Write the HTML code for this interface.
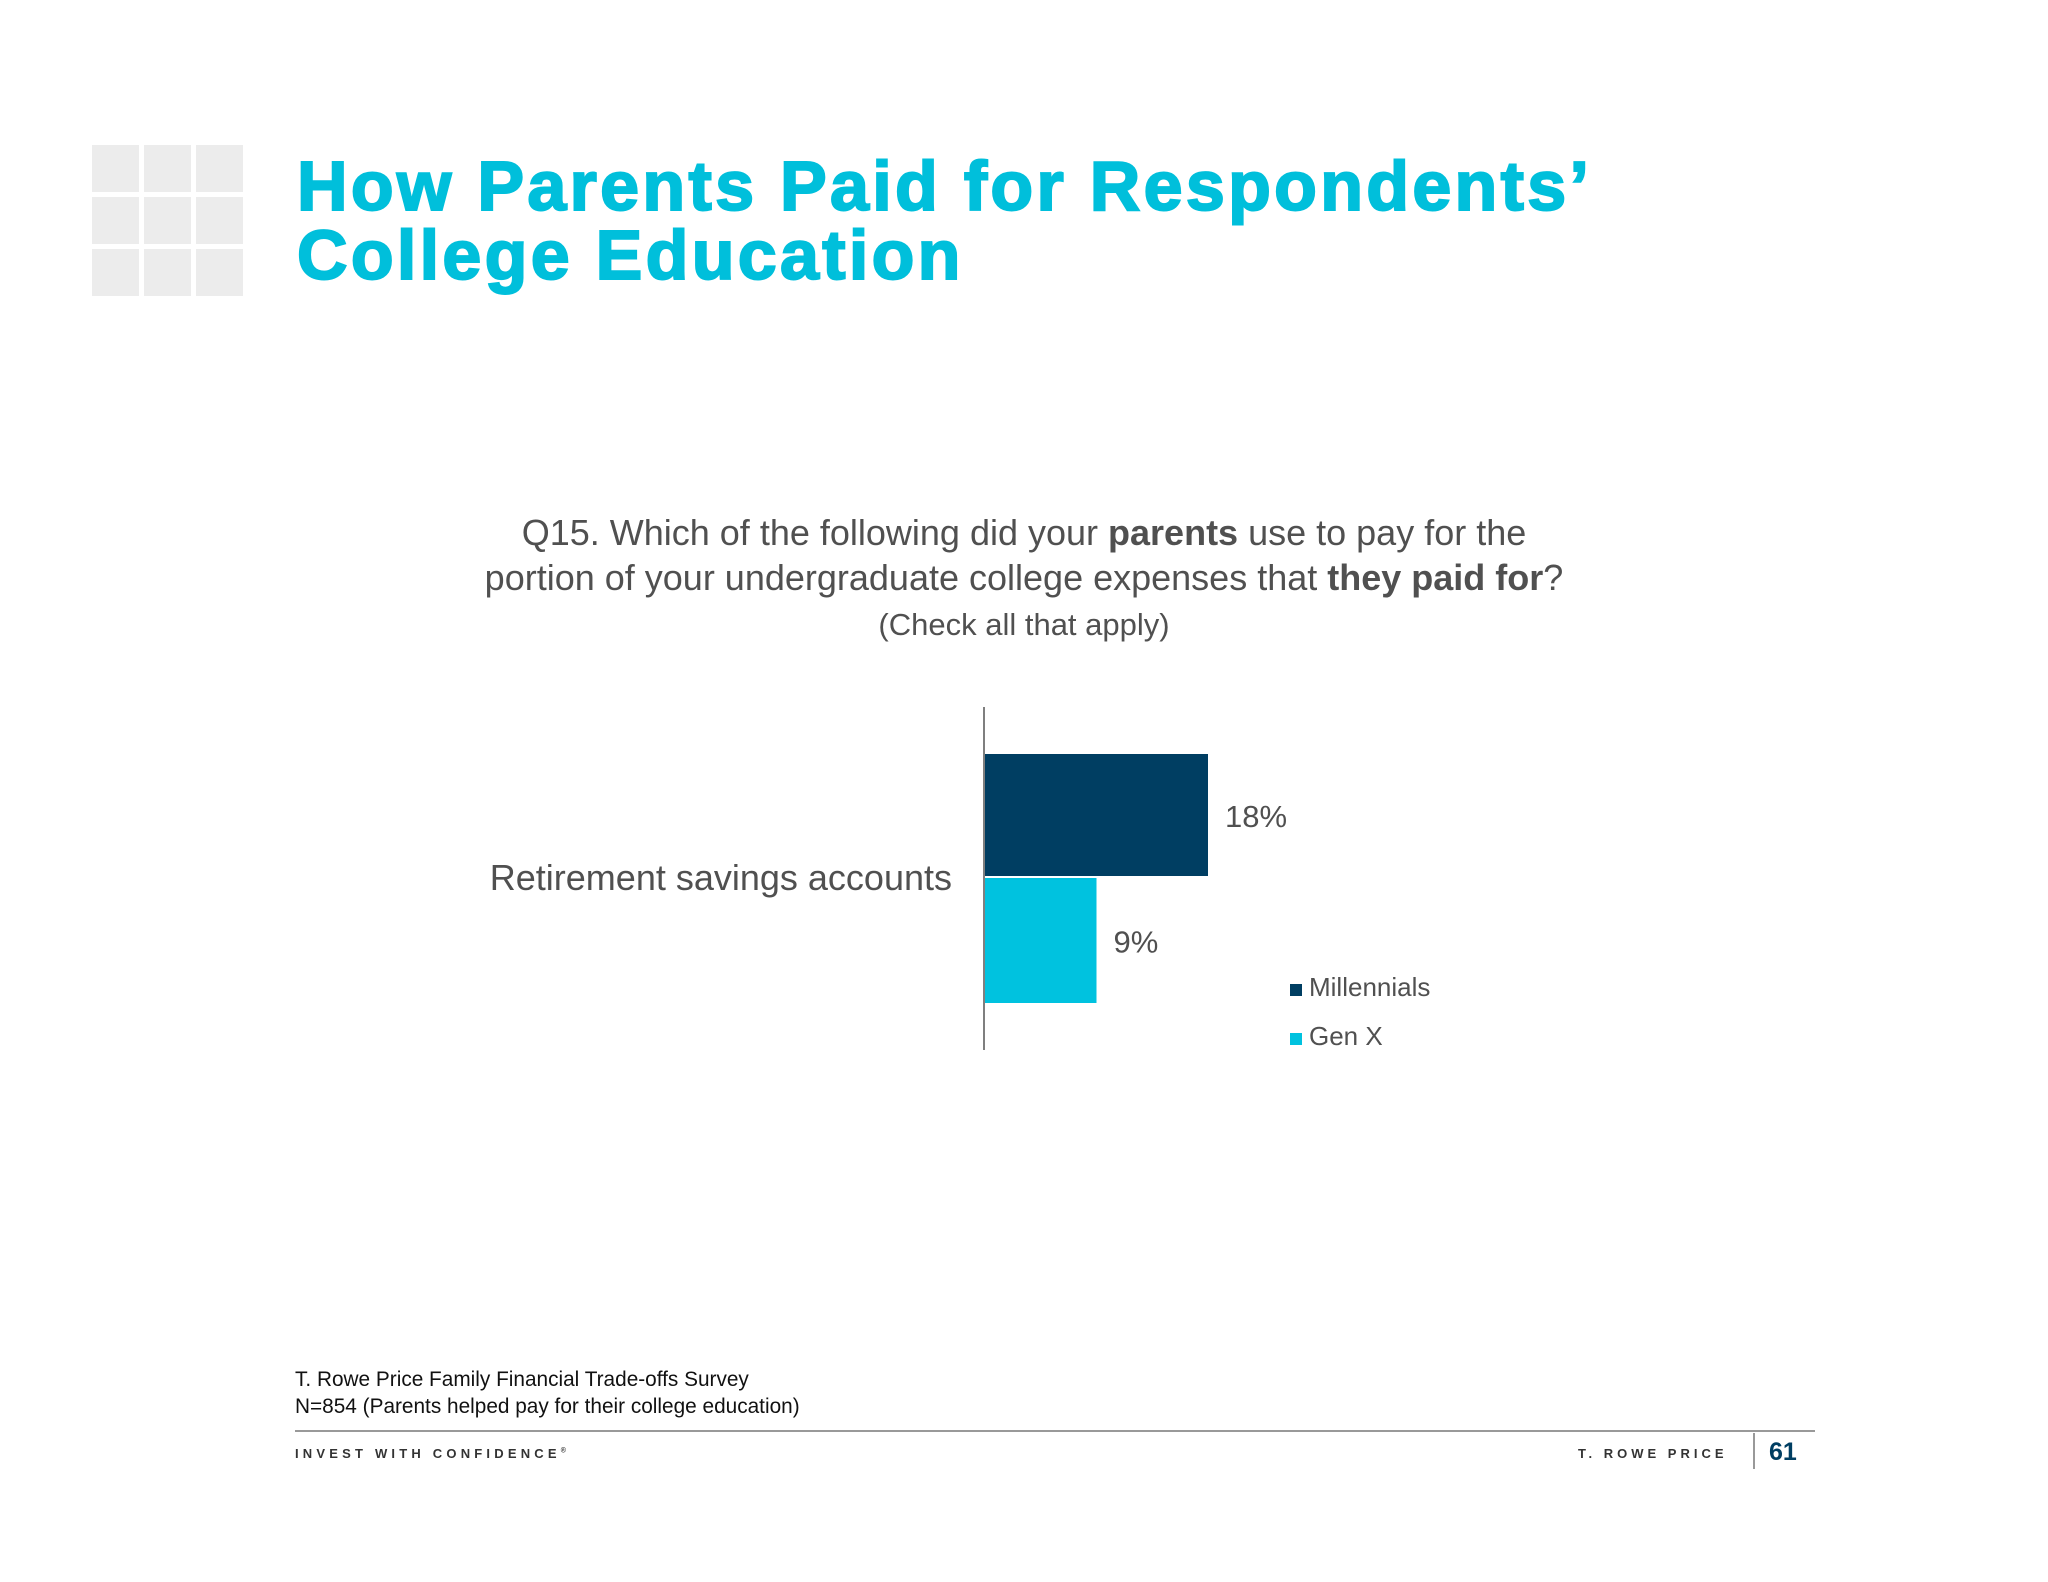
<!DOCTYPE html>
<html><head><meta charset="utf-8"><style>
body{margin:0;width:2048px;height:1582px;background:#fff;position:relative;overflow:hidden;font-family:"Liberation Sans",sans-serif;}
.a{position:absolute;white-space:nowrap;}
.cell{position:absolute;width:47px;height:47px;background:#ececec;}
</style></head><body>
<div>
<div class="cell" style="left:92px;top:145px"></div><div class="cell" style="left:144px;top:145px"></div><div class="cell" style="left:196px;top:145px"></div>
<div class="cell" style="left:92px;top:197px"></div><div class="cell" style="left:144px;top:197px"></div><div class="cell" style="left:196px;top:197px"></div>
<div class="cell" style="left:92px;top:249px"></div><div class="cell" style="left:144px;top:249px"></div><div class="cell" style="left:196px;top:249px"></div>
</div>
<div class="a" style="left:297px;top:152px;font-size:70px;font-weight:900;color:#00bfdb;line-height:69px;letter-spacing:3.3px;-webkit-text-stroke:2px #00bfdb">How Parents Paid for Respondents’<br>College Education</div>
<div class="a" style="left:0;width:2048px;top:510px;text-align:center;font-size:36px;color:#505050;line-height:45px">Q15. Which of the following did your <b>parents</b> use to pay for the<br>portion of your undergraduate college expenses that <b>they paid for</b>?<br><span style="font-size:31px;line-height:38px">(Check all that apply)</span></div>
<svg class="a" style="left:0;top:0" width="2048" height="1582">
<g id="g"></g>
<line x1="984" y1="707" x2="984" y2="1050" stroke="#555" stroke-width="1.5"/>
</svg>
<div class="a" style="right:1096px;top:857px;font-size:36px;color:#505050">Retirement savings accounts</div>
<div>
<div class="a" style="left:1290px;top:972px;font-size:26px;color:#505050"><span style="display:inline-block;width:12px;height:12px;background:#003e62;margin-right:7px"></span>Millennials</div>
<div class="a" style="left:1290px;top:1021px;font-size:26px;color:#505050"><span style="display:inline-block;width:12px;height:12px;background:#00c2df;margin-right:7px"></span>Gen X</div>
</div>
<div class="a" style="left:295px;top:1366px;font-size:20.8px;color:#111;line-height:27px">T. Rowe Price Family Financial Trade-offs Survey<br>N=854 (Parents helped pay for their college education)</div>
<div class="a" style="left:295px;top:1430px;width:1520px;height:2px;background:#999"></div>
<div class="a" style="left:295px;top:1446px;font-size:13px;font-weight:bold;letter-spacing:4.2px;color:#333">INVEST WITH CONFIDENCE<sup style="font-size:7px">®</sup></div>
<div class="a" style="left:1578px;top:1446px;font-size:13px;font-weight:bold;letter-spacing:4px;color:#333">T. ROWE PRICE</div>
<div class="a" style="left:1753px;top:1433px;width:1.5px;height:36px;background:#999"></div>
<div class="a" style="left:1769px;top:1438px;font-size:25px;font-weight:bold;color:#003e62">61</div>
<script>
const categories=["Retirement savings accounts"];
const series=["Millennials","Gen X"];
const values=[18,9];
const valueLabels=["18%","9%"];
const colors=["#003e62","#00c2df"];
const x0=985, pxPer=223/18;
const xs=v=>x0+v*pxPer;
const barTop=[754,878], barH=[122,125];
const g=document.getElementById('g');
const NS='http://www.w3.org/2000/svg';
values.forEach((v,i)=>{
 const r=document.createElementNS(NS,'rect');
 r.setAttribute('x',x0);r.setAttribute('y',barTop[i]);
 r.setAttribute('width',xs(v)-x0);r.setAttribute('height',barH[i]);
 r.setAttribute('fill',colors[i]);
 
 
 g.appendChild(r);
 const t=document.createElementNS(NS,'text');
 t.setAttribute('x',xs(v)+17);t.setAttribute('y',barTop[i]+barH[i]/2+12);
 t.setAttribute('font-size','31');t.setAttribute('fill','#505050');
 t.setAttribute('font-family','Liberation Sans, sans-serif');
 t.textContent=valueLabels[i];
 
 
 g.appendChild(t);
});
</script>
</body></html>
